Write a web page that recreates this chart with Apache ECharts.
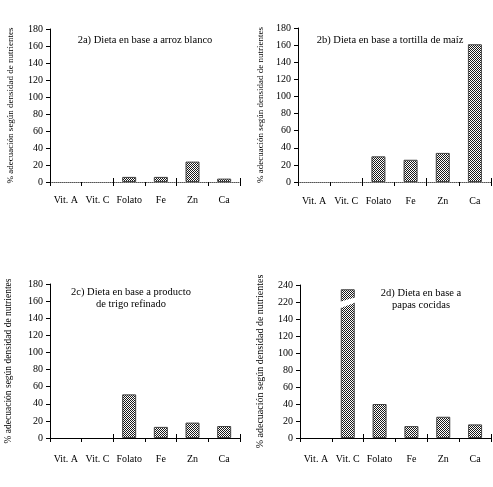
<!DOCTYPE html>
<html>
<head>
<meta charset="utf-8">
<script src="https://cdn.jsdelivr.net/npm/echarts@6/dist/echarts.min.js"></script>
<style>html,body{margin:0;padding:0;background:#fff}#c{width:493px;height:487px}</style>
</head>
<body>
<div id="c"></div>
<script>
const categories = ['Vit. A', 'Vit. C', 'Folato', 'Fe', 'Zn', 'Ca'];
const arrozBlanco = [0, 0, 6, 6, 24, 4];
const tortillaMaiz = [0, 0, 30, 26, 34, 161];
const trigoRefinado = [0, 0, 51, 13, 18, 14];
const papasCocidas = [0, 235, 40, 14, 25, 16];
const yTicksStd = ['0', '20', '40', '60', '80', '100', '120', '140', '160', '180'];
const yTicksBroken = ['0', '20', '40', '60', '80', '100', '120', '140', '220', '240'];
const titles = ['2a) Dieta en base a arroz blanco', '2b) Dieta en base a tortilla de maíz',
  '2c) Dieta en base a producto\nde trigo refinado', '2d) Dieta en base a\npapas cocidas'];
const yName = '% adecuación según densidad de nutrientes';
// axis break for panel d: real values >= 220 are drawn 60 units lower
const breakShift = 60;
const breakEnd = 220;

const FONT = '"Liberation Serif", "DejaVu Serif", serif';

// checkered fill pattern
const pat = document.createElement('canvas');
pat.width = 2; pat.height = 2;
const pc = pat.getContext('2d');
pc.fillStyle = '#fff'; pc.fillRect(0, 0, 2, 2);
pc.fillStyle = '#1a1a1a'; pc.fillRect(0, 0, 1, 1); pc.fillRect(1, 1, 1, 1);

const grids = [
  { left: 50, top: 29, width: 190, height: 153 },
  { left: 298, top: 28, width: 193, height: 154 },
  { left: 50, top: 284, width: 190, height: 154 },
  { left: 300, top: 285, width: 191, height: 153 }
];
const xLine = [
  { color: '#555', type: 'dotted', width: 1 },
  { color: '#555', type: 'dotted', width: 1 },
  { color: '#000', type: 'solid', width: 1 },
  { color: '#000', type: 'solid', width: 1 }
];
const xMargins = [13, 14, 16, 16];
const nameSizes = [9, 9, 9.5, 10];
const nameGaps = [35, 33, 37, 35];
const titlePos = [
  { x: 140, y: 29 }, { x: 385, y: 29 }, { x: 126, y: 281 }, { x: 416, y: 282 }
];

const xAxes = [], yAxes = [], series = [], titleOpts = [];
const dataSets = [arrozBlanco, tortillaMaiz, trigoRefinado, papasCocidas];

grids.forEach((g, i) => {
  xAxes.push({
    type: 'category', gridIndex: i, position: 'bottom', data: categories,
    boundaryGap: true,
    axisLine: { lineStyle: xLine[i] },
    axisTick: { show: true, length: 4, lineStyle: { color: '#000' }, alignWithLabel: false },
    axisLabel: { fontFamily: FONT, fontSize: 10, color: '#000', margin: xMargins[i], interval: 0 }
  });
  xAxes.push({
    type: 'category', gridIndex: i, position: 'top', offset: -g.height, data: categories,
    boundaryGap: true,
    axisLine: { show: false },
    axisTick: { show: true, length: 4, lineStyle: { color: '#000' } },
    axisLabel: { show: false }
  });
  const labels = i === 3 ? yTicksBroken : yTicksStd;
  yAxes.push({
    type: 'value', gridIndex: i, min: 0, max: 180, interval: 20,
    name: yName, nameLocation: 'middle', nameGap: nameGaps[i],
    nameTextStyle: { fontFamily: FONT, fontSize: nameSizes[i], color: '#000' },
    axisLine: { show: true, lineStyle: { color: '#000' } },
    axisTick: { show: true, length: 4, lineStyle: { color: '#000' } },
    splitLine: { show: false },
    axisLabel: {
      fontFamily: FONT, fontSize: 10, color: '#000', margin: 7,
      formatter: (v) => labels[Math.round(v / 20)]
    }
  });
  // zero-height bars are not drawn in the original
  const vals = dataSets[i].map(v => v === 0 ? '-' : ((i === 3 && v >= breakEnd) ? v - breakShift : v));
  series.push({
    type: 'bar', xAxisIndex: i * 2, yAxisIndex: i, data: vals, barWidth: 14,
    itemStyle: { color: { image: pat, repeat: 'repeat' }, borderColor: '#444', borderWidth: 1 },
    silent: true, animation: false
  });
  titleOpts.push({
    text: titles[i], left: titlePos[i].x, top: titlePos[i].y, textAlign: 'center',
    textStyle: { fontFamily: FONT, fontSize: 10.5, fontWeight: 'normal', color: '#000', lineHeight: 12 }
  });
});

// white slanted cut marking the break on the Vit. C bar of panel d
series.push({
  type: 'custom', xAxisIndex: 6, yAxisIndex: 3, z: 10, silent: true, animation: false,
  data: [[1, papasCocidas[1]]],
  renderItem: function (params, api) {
    if (api.value(1) < breakEnd) return null;
    const i = api.value(0);
    const cx = api.coord([i, 0])[0];
    const hw = 9;
    const p1 = [cx - hw, api.coord([i, 152])[1]];
    const p2 = [cx + hw, api.coord([i, 160])[1]];
    const p3 = [cx + hw, api.coord([i, 166])[1]];
    const p4 = [cx - hw, api.coord([i, 160])[1]];
    return { type: 'polygon', shape: { points: [p1, p2, p3, p4] }, style: { fill: '#fff' } };
  }
});

const chart = echarts.init(document.getElementById('c'), null, { renderer: 'canvas' });
chart.setOption({
  backgroundColor: '#fff',
  animation: false,
  title: titleOpts,
  grid: grids.map(g => Object.assign({ containLabel: false }, g)),
  xAxis: xAxes,
  yAxis: yAxes,
  series: series
});
</script>
</body>
</html>
